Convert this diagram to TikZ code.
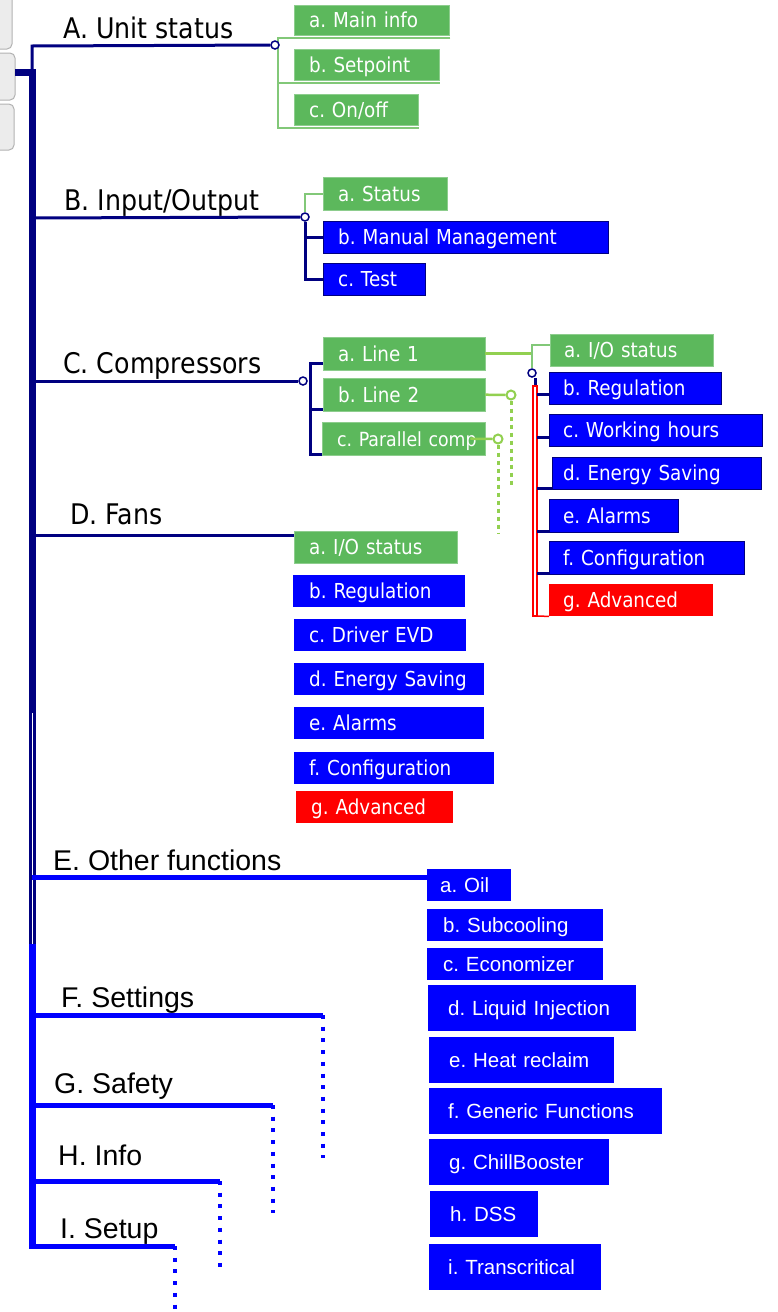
\documentclass[tikz,border=0pt]{standalone}
\usepackage{fontspec}
\setmainfont{DejaVu Sans}[FakeStretch=0.89]
\newfontfamily\arialike{Liberation Sans}
\usepackage{xcolor}
\usepackage{tikz}
\frenchspacing
\definecolor{navy}{RGB}{0,0,128}
\definecolor{pureblue}{RGB}{0,0,255}
\definecolor{purered}{RGB}{255,0,0}
\definecolor{okgreen}{RGB}{92,184,92}
\definecolor{softgreen}{RGB}{130,200,120}
\definecolor{limegreen}{RGB}{146,208,80}
\newcommand{\mnufont}{\fontsize{28.4}{34}\selectfont}
\newcommand{\itmfont}{\fontsize{20.6}{24}\selectfont}
\newcommand{\amnufont}{\arialike\fontsize{28.5}{34}\selectfont}
\newcommand{\aitmfont}{\arialike\fontsize{20.5}{24}\selectfont}
\tikzset{
    menu/.style = {anchor=base west, inner sep=0pt, font=\mnufont},
    amenu/.style = {menu, font=\amnufont},
    lpad/.code = {\def\itmpad{#1}},
    item/.style = {anchor=north west, inner sep=0pt, align=left, text=white, font=\itmfont,
                   text height=15pt, text depth=0pt, lpad=15pt, execute at begin node={\hspace*{\itmpad}}},
    gitem/.style = {item, fill=okgreen, draw=okgreen!70!white, thin},
    bitem/.style = {item, fill=pureblue, draw=navy, thin},
    pitem/.style = {item, fill=pureblue},
    ritem/.style = {item, fill=purered},
    eitem/.style = {item, fill=pureblue, font=\aitmfont},
    joint/.style = {circle, draw=navy, fill=white, line width=1.5pt, inner sep=0pt, minimum size=8pt},
    gjoint/.style = {joint, draw=limegreen, line width=2pt, minimum size=9pt},
    sub/.style = {draw=navy, line width=3pt},
    soft/.style = {draw=softgreen, line width=2pt},
    lime/.style = {draw=limegreen, line width=2.5pt},
    gdots/.style = {draw=limegreen, line width=3pt, dash pattern=on 4pt off 4pt},
    eline/.style = {draw=pureblue, line width=5pt},
    bdots/.style = {draw=pureblue, line width=4pt, dash pattern=on 4pt off 7.7pt},
    trunk/.style = {draw=navy, line width=7pt},
    btrunk/.style = {draw=pureblue, line width=7pt},
    btn/.style = {fill=gray!15, draw=gray!60, line width=1pt, rounded corners=5pt}
}
\begin{document}
\begin{tikzpicture}[x=1pt, y=-1pt]
\useasboundingbox (0,0) rectangle (777,1312);

% device keys on the left
\filldraw[btn] (-30,-10) rectangle (12,49);
\filldraw[btn] (-30,53) rectangle (15,100);
\filldraw[btn] (-30,104) rectangle (14,150);

% trunk
\coordinate (stub) at (15,72);
\coordinate (tTop) at (32,72);
\coordinate (tA) at (32,46);
\coordinate (tB) at (32,218);
\coordinate (tC) at (32,381);
\coordinate (tD) at (32,535);
\coordinate (tSplit) at (32,713);
\coordinate (tE) at (32,877);
\coordinate (tMid) at (32,944);
\coordinate (tF) at (32,1015);
\coordinate (tG) at (32,1105);
\coordinate (tH) at (32,1181);
\coordinate (tI) at (32,1246);
\coordinate (tEnd) at (32,1249);
\draw[trunk] (stub) -- (tTop) -- (tMid);
\draw[white, line width=1pt] (tSplit) -- (tMid);
\draw[btrunk] (tMid) -- (tEnd);

% menu labels
\node[menu] (mA) at (63,38) {A. Unit status};
\node[menu] (mB) at (64,210) {B. Input/Output};
\node[menu] (mC) at (63,373) {C. Compressors};
\node[menu] (mD) at (70,524) {D. Fans};
\node[amenu] (mE) at (53,870) {E. Other functions};
\node[amenu] (mF) at (61,1007) {F. Settings};
\node[amenu] (mG) at (54,1093) {G. Safety};
\node[amenu] (mH) at (58,1165) {H. Info};
\node[amenu] (mI) at (60,1238) {I. Setup};

% A. Unit status
\node[gitem, text width=155pt, minimum height=30pt] (aA) at (294,5) {a. Main info};
\node[gitem, text width=145pt, minimum height=31pt] (aB) at (294,49) {b. Setpoint};
\node[gitem, text width=124pt, minimum height=31pt] (aC) at (294,94) {c. On/off};
\draw[soft] ([xshift=1pt,yshift=-2.5pt]aA.south east) -| ([xshift=-16pt,yshift=-2.5pt]aC.south west)
            -- ([xshift=1pt,yshift=-2.5pt]aC.south east);
\draw[soft] ([xshift=-16pt,yshift=-2.5pt]aB.south west) -- ([xshift=1pt,yshift=-2.5pt]aB.south east);
\node[joint] (jA) at (275,45) {};
\draw[sub] (tTop) -- (tA) -- (jA);

% B. Input/Output
\node[gitem, text width=124pt, minimum height=33pt] (bA) at (323,177) {a. Status};
\node[bitem, text width=285pt, minimum height=32pt] (bB) at (323,221) {b. Manual Management};
\node[bitem, text width=102pt, minimum height=32pt] (bC) at (323,263) {c. Test};
\node[joint] (jB) at (305,217) {};
\draw[soft] (jB.north) |- (bA.west);
\draw[sub] (jB.south) |- (bC.west);
\draw[sub] (jB |- bB.west) -- (bB.west);
\draw[sub] (tB) -- (jB);

% C. Compressors
\node[gitem, text width=162pt, minimum height=33pt] (cA) at (323,337) {a. Line 1};
\node[gitem, text width=162pt, minimum height=33pt] (cB) at (323,378) {b. Line 2};
\node[gitem, font=\fontsize{19.5}{23}\selectfont, text width=163pt, minimum height=33pt] (cC) at (322,422) {c. Parallel comp};
\draw[sub] ([yshift=7pt]cA.south west) -- ++(-13,0) |- ([yshift=1pt]cC.south west);
\draw[sub] ([yshift=2pt]cB.south west) -- ++(-13,0);
\node[joint] (jC) at (303,381) {};
\draw[sub] (tC) -- (jC);

% Line 1 menu
\node[gitem, lpad=14pt, text width=163pt, minimum height=32pt] (ccA) at (550,334) {a. I/O status};
\node[bitem, lpad=14pt, text width=172pt, minimum height=32pt] (ccB) at (549,372) {b. Regulation};
\node[bitem, lpad=14pt, text width=213pt, minimum height=32pt] (ccC) at (549,414) {c. Working hours};
\node[bitem, lpad=11pt, text width=209pt, minimum height=32pt] (ccD) at (552,457) {d. Energy Saving};
\node[bitem, lpad=14pt, text width=129pt, minimum height=33pt] (ccE) at (549,499) {e. Alarms};
\node[bitem, lpad=14pt, text width=195pt, minimum height=33pt] (ccF) at (549,541) {f. Configuration};
\node[ritem, lpad=14pt, text width=164pt, minimum height=32pt] (ccG) at (549,584) {g. Advanced};
\node[joint] (jC2) at (532,373) {};
\draw[lime] (cA.east) -- (cA.east -| jC2);
\draw[soft, line width=1.5pt] (jC2.north) |- ([yshift=5pt]ccA.west);
\draw[sub] ([xshift=3pt]jC2.south) -- ([xshift=3pt]jC2 |- ccF.south);
\draw[purered, line width=1.2pt, fill=white] (533,386) rectangle (537,616);
\draw[purered, line width=1.5pt] (537,616) -- (ccG.south west);
\draw[sub] ([yshift=-6pt]ccB.west) -- ++(-12,0);
\draw[sub] ([yshift=-7pt]ccC.west) -- ++(-12,0);
\draw[sub] ([yshift=1pt]ccD.south west) -- ++(-15,0);
\draw[sub] ([yshift=1pt]ccE.south west) -- ++(-12,0);
\draw[sub] ([yshift=1pt]ccF.south west) -- ++(-12,0);

% Line 2 and Parallel comp
\node[gjoint] (cL2) at (511,395) {};
\node[gjoint] (cL3) at (498,439) {};
\draw[lime] (cB.east) -- (cL2.west);
\draw[lime] ([xshift=-15pt]cC.east) -- (cL3.west);
\draw[gdots] (cL2.south) -- ++(0,86);
\draw[gdots] (cL3.south) -- ++(0,89);

% D. Fans
\node[gitem, text width=163pt, minimum height=32pt] (dA) at (294,531) {a. I/O status};
\node[pitem, lpad=16pt, text width=172pt, minimum height=32pt] (dB) at (293,575) {b. Regulation};
\node[pitem, text width=172pt, minimum height=32pt] (dC) at (294,619) {c. Driver EVD};
\node[pitem, text width=190pt, minimum height=32pt] (dD) at (294,663) {d. Energy Saving};
\node[pitem, text width=190pt, minimum height=32pt] (dE) at (294,707) {e. Alarms};
\node[pitem, text width=200pt, minimum height=32pt] (dF) at (294,752) {f. Configuration};
\node[ritem, text width=157pt, minimum height=32pt] (dG) at (296,791) {g. Advanced};
\draw[sub] (tD) -- (tD -| dA.west);

% E. Other functions
\node[eitem, lpad=13pt, text width=84pt, minimum height=32pt] (eA) at (427,869) {a. Oil};
\node[eitem, lpad=16pt, text width=176pt, minimum height=32pt] (eB) at (427,909) {b. Subcooling};
\node[eitem, lpad=16pt, text width=176pt, minimum height=32pt] (eC) at (427,948) {c. Economizer};
\node[eitem, lpad=20pt, text width=208pt, minimum height=46pt] (eD) at (428,985) {d. Liquid Injection};
\node[eitem, lpad=20pt, text width=185pt, minimum height=46pt] (eE) at (429,1037) {e. Heat reclaim};
\node[eitem, lpad=19pt, text width=233pt, minimum height=46pt] (eF) at (429,1088) {f. Generic Functions};
\node[eitem, lpad=20pt, text width=180pt, minimum height=46pt] (eG) at (429,1139) {g. ChillBooster};
\node[eitem, lpad=20pt, text width=108pt, minimum height=46pt] (eH) at (430,1191) {h. DSS};
\node[eitem, lpad=19pt, text width=172pt, minimum height=46pt] (eI) at (429,1244) {i. Transcritical};
\draw[eline] (tE) -- (tE -| eA.west);

% F. to I.
\coordinate (kF) at (323,1015);
\coordinate (kG) at (273,1105);
\coordinate (kH) at (220,1181);
\coordinate (kI) at (175,1246);
\draw[eline] (tF) -- (kF);
\draw[eline] (tG) -- (kG);
\draw[eline] (tH) -- (kH);
\draw[eline] (tI) -- (kI);
\draw[bdots] (kF) -- ++(0,143);
\draw[bdots] (kG) -- ++(0,108);
\draw[bdots] (kH) -- ++(0,86);
\draw[bdots] (kI) -- ++(0,70);
\end{tikzpicture}
\end{document}
